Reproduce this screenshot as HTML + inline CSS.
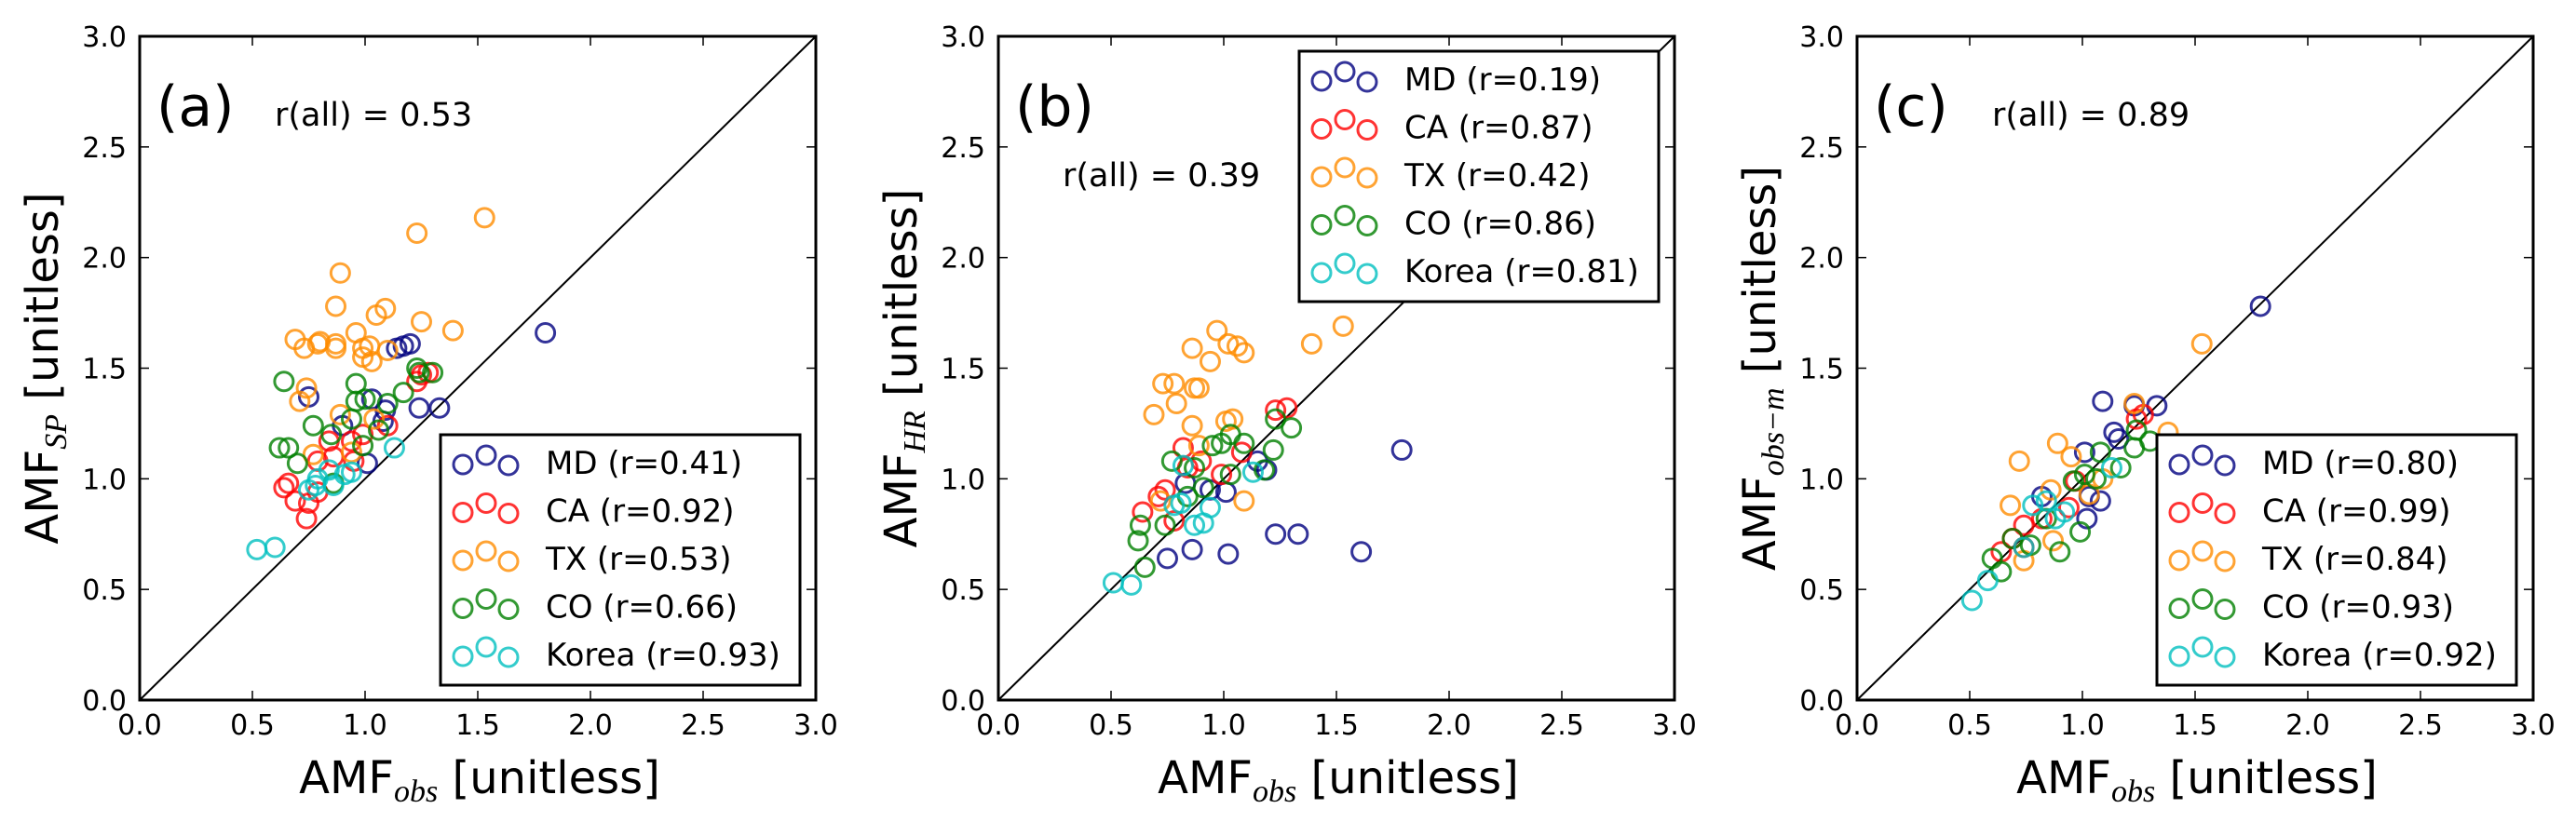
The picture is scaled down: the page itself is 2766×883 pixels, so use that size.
<!DOCTYPE html>
<html><head><meta charset="utf-8"><style>
html,body{margin:0;padding:0;background:#fff;}
svg{display:block;font-family:"DejaVu Sans","Liberation Sans",sans-serif;}
</style></head><body>
<svg id="fig" width="2766" height="883" viewBox="0 0 2766 883" xmlns="http://www.w3.org/2000/svg"></svg>
<script>
// ---- data (AMF_obs, AMF_model) per region per panel ----
const tickValues = [0.0, 0.5, 1.0, 1.5, 2.0, 2.5, 3.0];
const tickLabels = ["0.0","0.5","1.0","1.5","2.0","2.5","3.0"];
const regions = ["MD","CA","TX","CO","Korea"];
const panelLetters = ["(a)","(b)","(c)"];
const rAll = ["0.53","0.39","0.89"];
const rRegionA = ["0.41","0.92","0.53","0.66","0.93"];
const rRegionB = ["0.19","0.87","0.42","0.86","0.81"];
const rRegionC = ["0.80","0.99","0.84","0.93","0.92"];

const aMD = [[1.80,1.66],[1.14,1.59],[1.17,1.60],[1.20,1.61],[0.75,1.37],[1.24,1.32],[1.33,1.32],[1.01,1.07],[1.09,1.31],[1.03,1.36],[0.90,1.24],[1.08,1.26]];
const aCA = [[0.74,0.82],[0.66,0.98],[0.69,0.90],[0.75,0.89],[0.84,1.17],[0.94,1.17],[1.10,1.24],[1.25,1.47],[1.28,1.48],[1.23,1.44],[0.79,0.94],[0.86,1.10],[0.95,1.08],[0.99,1.20],[0.79,1.08],[0.64,0.96]];
const aTX = [[1.53,2.18],[1.23,2.11],[0.89,1.93],[0.87,1.78],[1.09,1.77],[1.05,1.74],[1.25,1.71],[1.39,1.67],[0.69,1.63],[0.96,1.66],[0.73,1.59],[0.79,1.61],[0.80,1.62],[0.87,1.59],[0.87,1.61],[0.99,1.59],[1.02,1.60],[1.03,1.53],[1.10,1.58],[0.74,1.41],[0.71,1.35],[0.89,1.29],[0.77,1.11],[0.94,1.12],[1.04,1.27],[0.99,1.55]];
const aCO = [[0.64,1.44],[0.62,1.14],[0.66,1.14],[0.70,1.07],[0.77,1.24],[0.96,1.43],[0.96,1.35],[1.00,1.36],[1.10,1.34],[1.17,1.39],[1.23,1.50],[1.30,1.48],[0.85,1.20],[0.94,1.27],[1.06,1.22],[0.99,1.15],[0.86,0.98],[1.24,1.48]];
const aKO = [[0.52,0.68],[0.60,0.69],[1.13,1.14],[0.75,0.95],[0.79,1.00],[0.84,1.04],[0.91,1.02],[0.86,0.97],[0.94,1.03],[0.78,0.97]];

const bMD = [[1.79,1.13],[1.61,0.67],[1.23,0.75],[1.33,0.75],[0.75,0.64],[0.86,0.68],[1.02,0.66],[1.15,1.08],[1.19,1.04],[1.01,0.94],[0.83,0.98],[0.94,0.95]];
const bCA = [[1.23,1.31],[1.28,1.32],[0.82,1.14],[0.71,0.92],[0.74,0.95],[0.64,0.85],[0.78,0.81],[0.90,1.08],[1.08,1.12],[0.99,1.02],[0.84,1.05]];
const bTX = [[0.97,1.67],[0.86,1.59],[1.02,1.61],[1.06,1.60],[1.09,1.57],[0.94,1.53],[1.39,1.61],[1.53,1.69],[0.73,1.43],[0.78,1.43],[0.79,1.34],[0.87,1.41],[0.89,1.41],[0.69,1.29],[0.86,1.24],[1.01,1.26],[1.04,1.27],[1.09,0.90],[0.72,0.90],[0.89,1.15]];
const bCO = [[0.62,0.72],[0.63,0.79],[0.65,0.60],[0.77,1.08],[0.95,1.15],[0.99,1.16],[1.03,1.20],[1.09,1.16],[1.23,1.27],[1.30,1.23],[1.22,1.13],[0.84,0.92],[0.91,0.96],[1.03,1.02],[1.18,1.04],[0.74,0.79],[0.87,1.05]];
const bKO = [[0.51,0.53],[0.59,0.52],[0.82,1.06],[1.13,1.03],[0.78,0.88],[0.87,0.79],[0.91,0.80],[0.94,0.87],[0.81,0.89]];

const cMD = [[1.79,1.78],[1.09,1.35],[1.33,1.33],[1.23,1.33],[1.14,1.21],[1.16,1.18],[1.01,1.12],[1.08,0.90],[1.02,0.82],[0.82,0.92],[1.03,0.92]];
const cCA = [[1.24,1.27],[1.27,1.29],[0.69,0.73],[0.64,0.67],[0.74,0.69],[0.82,0.82],[0.94,0.87],[0.97,0.99],[0.74,0.79]];
const cTX = [[1.53,1.61],[1.23,1.34],[1.38,1.21],[0.89,1.16],[0.72,1.08],[0.68,0.88],[0.95,1.10],[1.09,1.00],[0.86,0.95],[0.87,0.72],[0.74,0.63],[1.03,0.93]];
const cCO = [[0.60,0.64],[0.64,0.58],[0.90,0.67],[0.99,0.76],[1.17,1.05],[1.23,1.14],[1.30,1.17],[1.08,1.12],[0.96,0.99],[1.01,1.02],[1.06,1.00],[0.69,0.73],[0.77,0.70],[0.84,0.82],[1.24,1.22]];
const cKO = [[0.51,0.45],[0.58,0.54],[1.13,1.05],[0.78,0.88],[0.84,0.90],[0.92,0.85],[0.74,0.69],[0.88,0.82]];

const NS = "http://www.w3.org/2000/svg";
const svg = document.getElementById('fig');
const colors = ["#000080","#ff0000","#ff8c00","#008000","#00bfbf"];
const yTitles = ["SP","HR","obs\u2212m"];
const panelData = [[aMD,aCA,aTX,aCO,aKO],[bMD,bCA,bTX,bCO,bKO],[cMD,cCA,cTX,cCO,cKO]];
const panelR = [rRegionA,rRegionB,rRegionC];
const legendPos = [[473,467],[1395,55],[2316,467]];
const rAllPos = [[295,135],[1141,200],[2139,135]];

function mk(tag, attrs, parent){
  const e = document.createElementNS(NS, tag);
  for (const k in attrs) e.setAttribute(k, attrs[k]);
  (parent||svg).appendChild(e);
  return e;
}

const L0 = 150, W = 726, T = 39, H = 713;
for (let p = 0; p < 3; p++) {
  const ox = p * 922;
  const left = L0 + ox, right = left + W, top = T, bottom = T + H;
  const sx = v => left + v / 3 * W;
  const sy = v => bottom - v / 3 * H;
  const g = mk('g', {});
  
  

  // 1:1 line
  const dl = mk('line', {x1: sx(0), y1: sy(0), x2: sx(3), y2: sy(3), stroke: '#000', 'stroke-width': 2}, g);
  
  

  // points
  panelData[p].forEach((series, si) => {
    const sg = mk('g', {}, g);
    
    
    series.forEach(pt => {
      const c = mk('circle', {cx: sx(pt[0]), cy: sy(pt[1]), r: 10, fill: 'none', stroke: colors[si], 'stroke-opacity': 0.8, 'stroke-width': 3}, sg);
      
      
    });
  });

  // ticks & labels
  tickValues.forEach((v, i) => {
    const x = sx(v), y = sy(v);
    mk('line', {x1: x, y1: bottom, x2: x, y2: bottom - 10, stroke: '#000', 'stroke-width': 1.5}, g);
    mk('line', {x1: x, y1: top, x2: x, y2: top + 10, stroke: '#000', 'stroke-width': 1.5}, g);
    mk('line', {x1: left, y1: y, x2: left + 10, y2: y, stroke: '#000', 'stroke-width': 1.5}, g);
    mk('line', {x1: right, y1: y, x2: right - 10, y2: y, stroke: '#000', 'stroke-width': 1.5}, g);
    const tx = mk('text', {x: x, y: 789, 'font-size': 30, 'text-anchor': 'middle'}, g);
    tx.textContent = tickLabels[i];
    
    
    const ty = mk('text', {x: left - 14, y: y + 11, 'font-size': 30, 'text-anchor': 'end'}, g);
    ty.textContent = tickLabels[i];
    
    
  });

  // frame
  const fr = mk('rect', {x: left, y: top, width: W, height: H, fill: 'none', stroke: '#000', 'stroke-width': 3}, g);
  
  

  // panel letter & r(all)
  const pl = mk('text', {x: left + 18, y: 135, 'font-size': 60}, g);
  pl.textContent = panelLetters[p];
  
  
  const ra = mk('text', {x: rAllPos[p][0], y: rAllPos[p][1], 'font-size': 35}, g);
  ra.textContent = 'r(all) = ' + rAll[p];
  
  

  // x title
  const xt = mk('text', {x: left + W / 2 + 2, y: 852, 'font-size': 48, 'text-anchor': 'middle'}, g);
  
  
  xt.innerHTML = 'AMF<tspan font-family="Liberation Serif, DejaVu Serif, serif" font-style="italic" font-size="34" dy="9">obs</tspan><tspan dy="-9"> [unitless]</tspan>';

  // y title
  const yt = mk('text', {x: 0, y: 0, 'font-size': 48, 'text-anchor': 'middle', transform: 'translate(' + (ox + 62) + ',' + (top + H / 2) + ') rotate(-90)'}, g);
  
  
  yt.innerHTML = 'AMF<tspan font-family="Liberation Serif, DejaVu Serif, serif" font-style="italic" font-size="34" dy="9">' + yTitles[p] + '</tspan><tspan dy="-9"> [unitless]</tspan>';

  // legend
  const [lx, ly] = legendPos[p];
  const lg = mk('g', {}, g);
  
  
  mk('rect', {x: lx, y: ly, width: 386, height: 269, fill: '#fff', stroke: '#000', 'stroke-width': 3}, lg);
  regions.forEach((r, i) => {
    const cy = ly + 32 + i * 51.5;
    const eg = mk('g', {}, lg);
    
    
    [[24, 0], [49, -10], [73, 1]].forEach(m => {
      mk('circle', {cx: lx + m[0], cy: cy + m[1], r: 10, fill: 'none', stroke: colors[i], 'stroke-opacity': 0.8, 'stroke-width': 3}, eg);
    });
    const t = mk('text', {x: lx + 113, y: cy + 10, 'font-size': 34}, eg);
    t.textContent = r + ' (r=' + panelR[p][i] + ')';
  });
}
</script>
</body></html>
